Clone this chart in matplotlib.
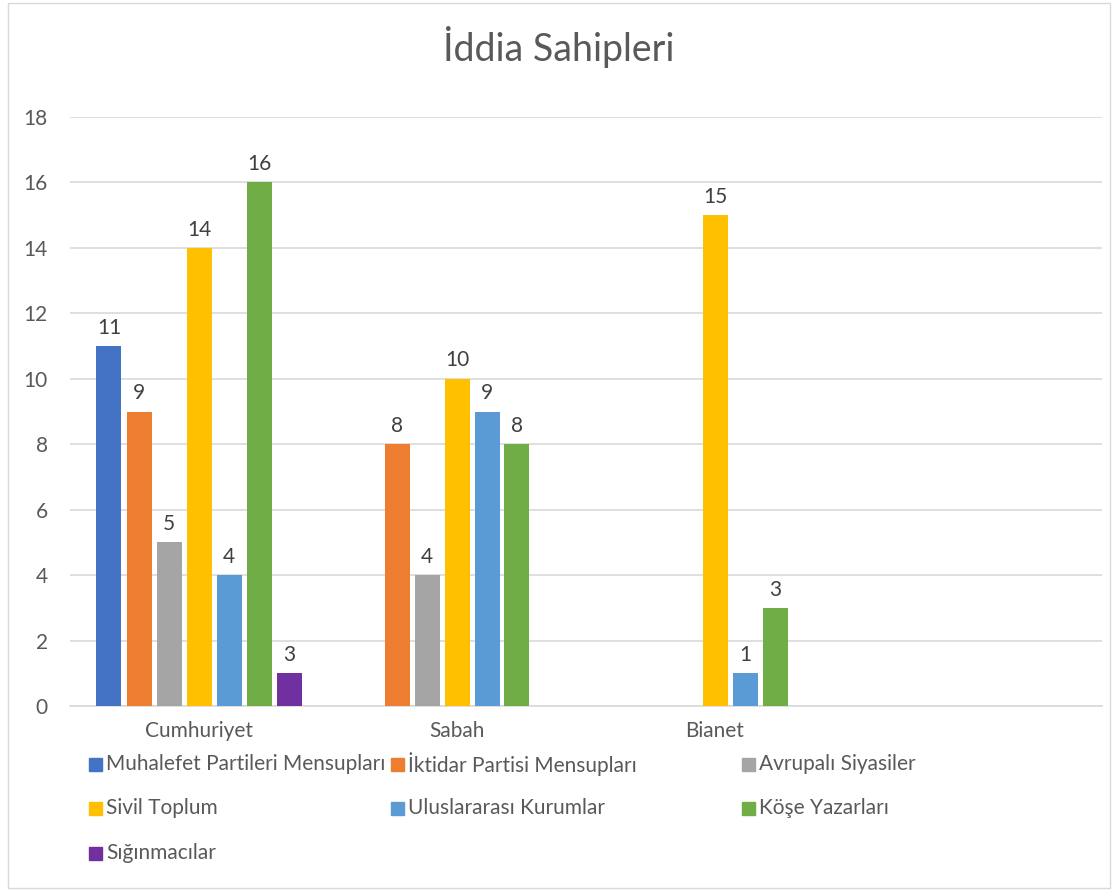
import matplotlib
matplotlib.use("Agg")
import matplotlib.pyplot as plt
import numpy as np
from matplotlib.patches import Rectangle

plt.rcParams['font.family'] = ['Lato', 'DejaVu Sans']

categories = ["Cumhuriyet", "Sabah", "Bianet", ""]
series_names = ["Muhalefet Partileri Mensupları", "İktidar Partisi Mensupları",
                "Avrupalı Siyasiler", "Sivil Toplum", "Uluslararası Kurumlar",
                "Köşe Yazarları", "Sığınmacılar"]
muhalefet = [11, np.nan, np.nan, np.nan]
iktidar = [9, 8, np.nan, np.nan]
avrupali = [5, 4, np.nan, np.nan]
sivil = [14, 10, 15, np.nan]
uluslararasi = [4, 9, 1, np.nan]
kose = [16, 8, 3, np.nan]
siginmaci = [1, np.nan, np.nan, np.nan]
# the source chart labels the Sığınmacılar bar "3" although the bar stands at 1
siginmaci_labels = ["3", "", "", ""]

series = [muhalefet, iktidar, avrupali, sivil, uluslararasi, kose, siginmaci]
colors = ["#4472C4", "#ED7D31", "#A5A5A5", "#FFC000", "#5B9BD5", "#70AD47", "#7030A0"]
txt = "#595959"

fig = plt.figure(figsize=(11.18, 8.91), dpi=100)
ax = fig.add_axes([70/1118, 1-706/891, (1102-70)/1118, (706-117)/891])

x = np.arange(len(categories))
slot = 30/258
width = 25/258
for i, (vals, c) in enumerate(zip(series, colors)):
    pos = x + (i - 3) * slot
    bars = ax.bar(pos, vals, width, color=c, zorder=3)
    for j, b in enumerate(bars):
        v = vals[j]
        if np.isnan(v):
            continue
        lab = siginmaci_labels[j] if i == 6 else f"{int(v)}"
        ax.annotate(lab, (b.get_x() + b.get_width()/2, v), xytext=(0, 6),
                    textcoords="offset points", ha="center", va="bottom",
                    fontsize=15, color="#404040")

ax.set_xlim(-0.5, len(categories) - 0.5)
ax.set_ylim(0, 18)
ax.set_yticks(range(0, 19, 2))
ax.set_xticks(x)
ax.set_xticklabels(categories)
ax.tick_params(axis="both", length=0, labelsize=15, labelcolor=txt)
ax.tick_params(axis="y", pad=16)
ax.tick_params(axis="x", pad=11)
ax.grid(axis="y", color="#D9D9D9", linewidth=1.2, zorder=0)
for s in ["top", "right", "left"]:
    ax.spines[s].set_visible(False)
ax.spines["bottom"].set_color("#D9D9D9")
ax.spines["bottom"].set_linewidth(1.2)

fig.text(0.5, 1-47/891, "İddia Sahipleri", ha="center", va="center",
         fontsize=27, color=txt)

# legend laid out like the source (three uneven columns)
col_x = [89, 391, 742]
row_y = [764, 808, 853]
for k, (name, c) in enumerate(zip(series_names, colors)):
    cx = col_x[k % 3]
    cy = row_y[k // 3]
    fig.patches.append(Rectangle((cx/1118, 1-(cy+6.5)/891), 13/1118, 13/891,
                                 transform=fig.transFigure, color=c))
    fig.text((cx+17)/1118, 1-cy/891, name, ha="left", va="center",
             fontsize=15, color=txt)

fig.patches.append(Rectangle((8/1118, 3/891), 1102/1118, 885/891, fill=False,
                             edgecolor="#D9D9D9", linewidth=1,
                             transform=fig.transFigure))

fig.savefig("out.png", dpi=100)
